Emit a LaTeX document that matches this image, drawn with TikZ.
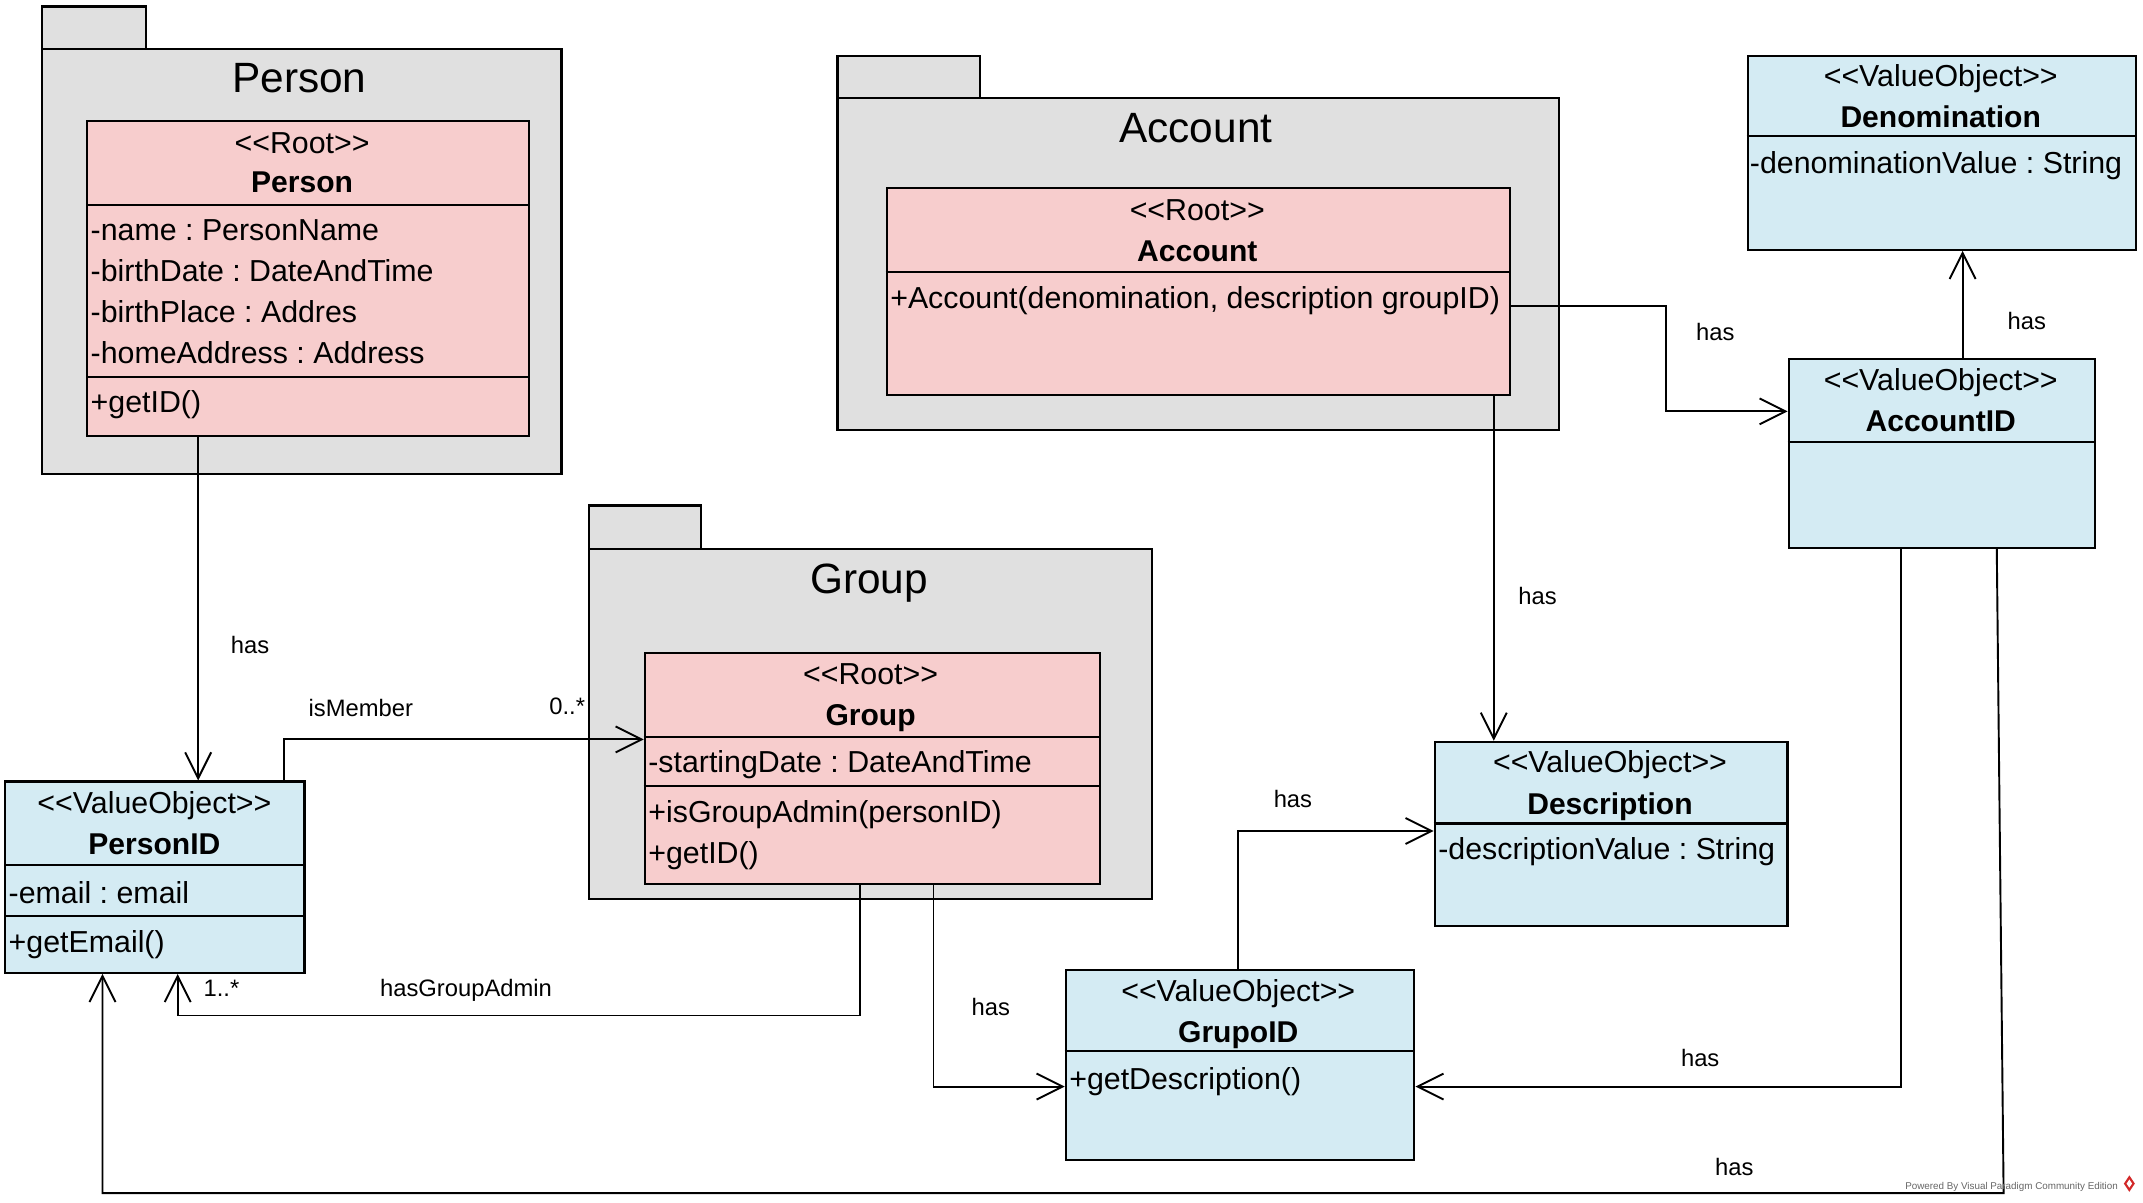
\documentclass[tikz,border=0pt]{standalone}
\usepackage{fontspec}
\newfontfamily\vpf{Liberation Sans}
\usetikzlibrary{arrows.meta}
\definecolor{pkggray}{RGB}{224,224,224}
\definecolor{rootpink}{RGB}{247,205,205}
\definecolor{voblue}{RGB}{212,235,243}
\definecolor{vpred}{RGB}{210,40,40}
\tikzset{
  pkgbox/.style={draw=black, fill=pkggray, line width=0.8pt, inner sep=0pt, anchor=north west},
  clsbox/.style={draw=black, line width=0.8pt, inner sep=0pt, anchor=north west},
  rootbox/.style={clsbox, fill=rootpink},
  vobox/.style={clsbox, fill=voblue},
  divl/.style={line width=0.8pt},
  ptitle/.style={font=\vpf\fontsize{15.5}{18}\selectfont, anchor=base, inner sep=0pt},
  ctext/.style={font=\vpf\fontsize{11.1}{13}\selectfont, anchor=base, inner sep=0pt},
  ltext/.style={ctext, anchor=base west},
  btext/.style={font=\vpf\bfseries\fontsize{11}{13}\selectfont, anchor=base, inner sep=0pt},
  lbl/.style={font=\vpf\fontsize{8.7}{10}\selectfont, anchor=base, inner sep=0pt},
  conn/.style={line width=0.7pt, -{Straight Barb[length=9.5pt, width=9.5pt, line width=0.7pt]}},
}
\begin{document}
\frenchspacing
\begin{tikzpicture}[x=0.5pt, y=-0.5pt]
\useasboundingbox (0,0) rectangle (1568,880);
\fill[white] (0,0) rectangle (1568,880);

% ---------- packages ----------
\node[pkgbox, minimum width=38pt, minimum height=15.5pt] (ptab) at (30,4) {};
\node[pkgbox, minimum width=190pt, minimum height=155.5pt] (ppkg) at (30,35) {};
\node[ptitle] (ppkgt) at (219,68) {Person};

\node[pkgbox, minimum width=52pt, minimum height=15.5pt] (atab) at (612,40) {};
\node[pkgbox, minimum width=264pt, minimum height=121.5pt] (apkg) at (612,71) {};
\node[ptitle] (apkgt) at (875,104) {Account};

\node[pkgbox, minimum width=41pt, minimum height=16pt] (gtab) at (430,369) {};
\node[pkgbox, minimum width=206pt, minimum height=128pt] (gpkg) at (430,401) {};
\node[ptitle] (gpkgt) at (636,434) {Group};

% ---------- classes ----------
% Person
\node[rootbox, minimum width=161.5pt, minimum height=115pt] (person) at (63,88) {};
\draw[divl] (person.west |- 0,150) -- (person.east |- 0,150);
\draw[divl] (person.west |- 0,276) -- (person.east |- 0,276);
\node[ctext] (personS) at (221,112) {<<Root>>};
\node[btext] (personN) at (221,141) {Person};
\node[ltext] (personA1) at (66,176) {-name : PersonName};
\node[ltext] (personA2) at (66,206) {-birthDate : DateAndTime};
\node[ltext] (personA3) at (66,236) {-birthPlace : Addres};
\node[ltext] (personA4) at (66,266) {-homeAddress : Address};
\node[ltext] (personO1) at (66,302) {+getID()};

% Account
\node[rootbox, minimum width=228pt, minimum height=75.5pt] (account) at (648,137) {};
\draw[divl] (account.west |- 0,199) -- (account.east |- 0,199);
\node[ctext] (accountS) at (876,161) {<<Root>>};
\node[btext] (accountN) at (876,191) {Account};
\node[ltext] (accountO1) at (651,226) {+Account(denomination, description groupID)};

% Denomination
\node[vobox, minimum width=142pt, minimum height=71pt] (denom) at (1278,40) {};
\draw[divl] (denom.west |- 0,99.5) -- (denom.east |- 0,99.5);
\node[ctext] (denomS) at (1420,63) {<<ValueObject>>};
\node[btext] (denomN) at (1420,93) {Denomination};
\node[ltext] (denomA1) at (1280,127) {-denominationValue : String};

% AccountID
\node[vobox, minimum width=112pt, minimum height=69pt] (accid) at (1308,262) {};
\draw[divl] (accid.west |- 0,323.5) -- (accid.east |- 0,323.5);
\node[ctext] (accidS) at (1420,286) {<<ValueObject>>};
\node[btext] (accidN) at (1420,316) {AccountID};

% Description
\node[vobox, minimum width=129pt, minimum height=67.5pt] (desc) at (1049,542) {};
\draw[divl] (desc.west |- 0,602.5) -- (desc.east |- 0,602.5);
\node[ctext] (descS) at (1178,565) {<<ValueObject>>};
\node[btext] (descN) at (1178,596) {Description};
\node[ltext] (descA1) at (1052,629) {-descriptionValue : String};

% GrupoID
\node[vobox, minimum width=127.5pt, minimum height=69.5pt] (grupo) at (779,709) {};
\draw[divl] (grupo.west |- 0,769) -- (grupo.east |- 0,769);
\node[ctext] (grupoS) at (906,733) {<<ValueObject>>};
\node[btext] (grupoN) at (906,763) {GrupoID};
\node[ltext] (grupoO1) at (782,797) {+getDescription()};

% Group
\node[rootbox, minimum width=166.5pt, minimum height=84.5pt] (group) at (471,477) {};
\draw[divl] (group.west |- 0,539) -- (group.east |- 0,539);
\draw[divl] (group.west |- 0,575) -- (group.east |- 0,575);
\node[ctext] (groupS) at (637,501) {<<Root>>};
\node[btext] (groupN) at (637,531) {Group};
\node[ltext] (groupA1) at (474,565) {-startingDate : DateAndTime};
\node[ltext] (groupO1) at (474,602) {+isGroupAdmin(personID)};
\node[ltext] (groupO2) at (474,632) {+getID()};

% PersonID
\node[vobox, minimum width=109.5pt, minimum height=70pt] (personid) at (3,571) {};
\draw[divl] (personid.west |- 0,633) -- (personid.east |- 0,633);
\draw[divl] (personid.west |- 0,670) -- (personid.east |- 0,670);
\node[ctext] (personidS) at (113,595) {<<ValueObject>>};
\node[btext] (personidN) at (113,625) {PersonID};
\node[ltext] (personidA1) at (6,661) {-email : email};
\node[ltext] (personidO1) at (6,697) {+getEmail()};

% ---------- connectors ----------
\draw[conn] (145,0 |- person.south) -- (145,0 |- personid.north);
\draw[conn] (208,0 |- personid.north) |- (0,541 -| group.west);
\draw[conn] (629,0 |- group.south) -- (629,743) -| (130,0 |- personid.south);
\draw[conn] (683,0 |- group.south) |- (0,795 -| grupo.west);
\draw[conn] (account.east |- 0,224) -- (1219,224) |- (0,301 -| accid.west);
\draw[conn] (1093,0 |- account.south) -- (1093,0 |- desc.north);
\draw[conn] (1436,0 |- accid.north) -- (1436,0 |- denom.south);
\draw[conn] (906,0 |- grupo.north) |- (0,608 -| desc.west);
\draw[conn] (1391,0 |- accid.south) |- (0,795 -| grupo.east);
\draw[conn] (1461,0 |- accid.south) -- (1466,873) -| (75,0 |- personid.south);

% ---------- labels ----------
\node[lbl] (l1) at (183,478) {has};
\node[lbl] (l2) at (264,524) {isMember};
\node[lbl] (l3) at (415,523) {0..*};
\node[lbl] (l4) at (162,729) {1..*};
\node[lbl] (l5) at (341,729) {hasGroupAdmin};
\node[lbl] (l6) at (725,743) {has};
\node[lbl] (l7) at (946,591) {has};
\node[lbl] (l8) at (1125,442) {has};
\node[lbl] (l9) at (1255,249) {has};
\node[lbl] (l10) at (1483,241) {has};
\node[lbl] (l11) at (1244,780) {has};
\node[lbl] (l12) at (1269,860) {has};

% ---------- watermark ----------
\node[font=\vpf\fontsize{3.6}{4.5}\selectfont, text=black!60, anchor=base east, inner sep=0pt] (wm) at (1550,870) {Powered By Visual Paradigm Community Edition};
\fill[vpred] (1558,860) -- (1562,866) -- (1558,872) -- (1554,866) -- cycle;
\fill[white] (1558,863) -- (1560,866) -- (1558,869) -- (1556,866) -- cycle;
\end{tikzpicture}
\end{document}
